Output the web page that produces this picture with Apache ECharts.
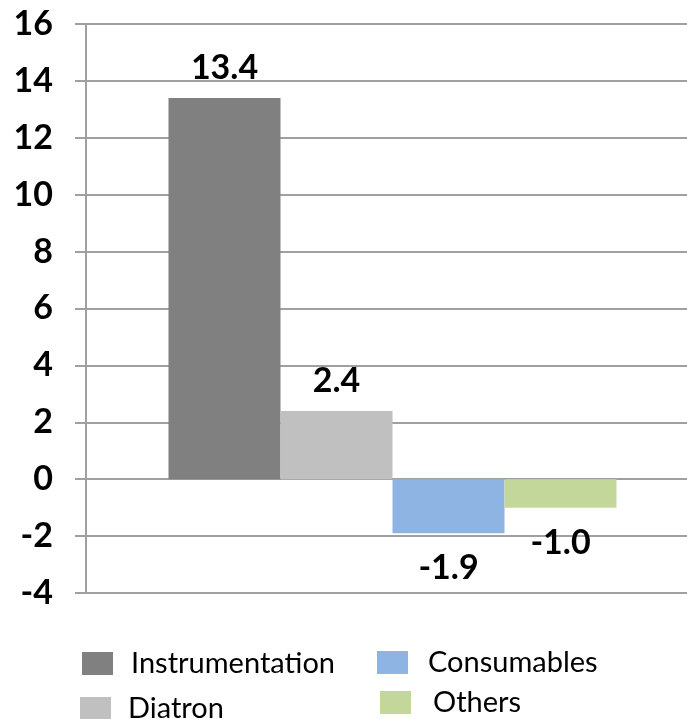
<!DOCTYPE html>
<html><head><meta charset="utf-8">
<script src="https://cdn.jsdelivr.net/npm/echarts@6/dist/echarts.min.js"></script>
<style>html,body{margin:0;padding:0;background:#fff}#c{width:687px;height:719px}</style>
</head><body><div id="c"></div>
<script>
const seriesNames = ['Instrumentation', 'Diatron', 'Consumables', 'Others'];
const seriesValues = [13.4, 2.4, -1.9, -1.0];
const seriesColors = ['#808080', '#c0c0c0', '#8eb4e3', '#c4d79b'];
const yMin = -4, yMax = 16, yStep = 2;

const font = 'Lato, "Open Sans", sans-serif';
const chart = echarts.init(document.getElementById('c'), null, {renderer: 'canvas'});
const legendPos = [
  {left: 82, top: 649, gap: 13},
  {left: 80, top: 694, gap: 12},
  {left: 377, top: 648, gap: 15},
  {left: 380, top: 688, gap: 17}
];
const barSeries = seriesNames.map((n, i) => ({
  name: n, type: 'bar', data: [seriesValues[i]],
  barWidth: 112, barGap: '0%',
  itemStyle: {color: seriesColors[i]},
  label: {
    show: true, position: seriesValues[i] >= 0 ? 'top' : 'bottom',
    distance: seriesValues[i] >= 0 ? 13 : 18,
    formatter: p => p.value.toFixed(1),
    color: '#000', fontFamily: font, fontWeight: 'bold', fontSize: 34
  }
}));
// invisible spacer that shifts the bar group to its place in the plot
const spacer = {name: '_spacer', type: 'bar', data: [null], barWidth: 12, barGap: '0%', silent: true, itemStyle: {color: 'transparent'}};
chart.setOption({
  animation: false,
  grid: {left: 86, right: 0, top: 24, bottom: 126, containLabel: false},
  xAxis: {type: 'category', data: [''], axisLine: {show: false}, axisTick: {show: false}, axisLabel: {show: false}},
  yAxis: {
    type: 'value', min: yMin, max: yMax, interval: yStep,
    axisLine: {show: true, lineStyle: {color: '#a0a0a0', width: 2}},
    axisTick: {show: true, length: 11, lineStyle: {color: '#a0a0a0', width: 2}},
    splitLine: {show: true, lineStyle: {color: '#a0a0a0', width: 2}},
    axisLabel: {margin: 33, color: '#000', fontFamily: font, fontWeight: 'bold', fontSize: 34}
  },
  legend: seriesNames.map((n, i) => ({
    data: [n], left: legendPos[i].left, top: legendPos[i].top, padding: 0,
    itemWidth: 31, itemHeight: 23, itemGap: 0, icon: 'rect',
    textStyle: {color: '#000', fontFamily: font, fontSize: 29, padding: [0, 0, 0, legendPos[i].gap]}
  })),
  series: [spacer].concat(barSeries)
});
</script></body></html>
